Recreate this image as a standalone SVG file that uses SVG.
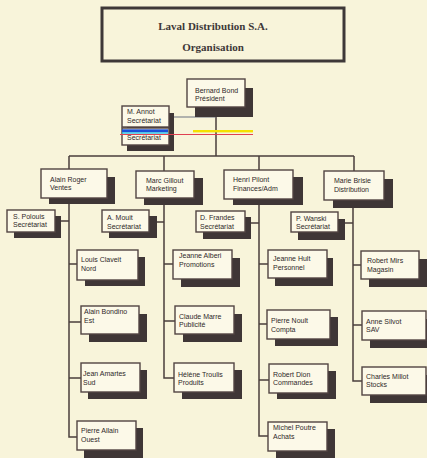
<svg xmlns="http://www.w3.org/2000/svg" width="427" height="458" viewBox="0 0 427 458">
<style>
.bg{fill:#f8f4da}
.bx{fill:#fcf9e8;stroke:#524442;stroke-width:1.4}
.sh{fill:#3f3636}
.ln{fill:none;stroke:#4a3e3c;stroke-width:1.5}
.t{font-family:"Liberation Sans",Arial,sans-serif;font-size:7px;fill:#2f2828}
.tt{font-family:"Liberation Serif","Times New Roman",serif;font-size:11px;font-weight:bold;fill:#3e3838;text-anchor:middle}
</style>
<rect class="bg" x="0" y="0" width="427" height="458"/>
<g id="title">
<rect x="102" y="8" width="242" height="53" fill="#f8f4da" stroke="#3e3838" stroke-width="3"/>
<text class="tt" x="213" y="30">Laval Distribution S.A.</text>
<text class="tt" x="213" y="51">Organisation</text>
</g>
<g id="connectors">
<path class="ln" d="M216 107V156M69 156H354M69 156V169M164 156V171M259 156V170M354 156V171"/>
<path class="ln" d="M69 198V437H77M69 264H77M69 322H81M69 378H81M61 221H69"/>
<path class="ln" d="M164 198V378H174M164 264H173M164 321H175M157 222H164"/>
<path class="ln" d="M259 199V436H268M259 264H268M259 324H267M259 380H269M251 223H259"/>
<path class="ln" d="M353 200V381H362M353 265H361M353 325H362M345 223H353"/>
<path fill="none" stroke="#6a7080" stroke-width="1.2" d="M169 117H216"/>
</g>
<g id="president"><rect class="sh" x="195" y="88" width="58" height="29"/><rect class="bx" x="187" y="79" width="58" height="28"/><text class="t" x="195" y="92.5">Bernard Bond</text><text class="t" x="195" y="101">Président</text></g>
<g id="annot"><rect class="sh" x="127" y="113" width="47" height="38"/><rect class="bx" x="122" y="106" width="47" height="21"/><rect class="bx" x="122" y="128" width="47" height="17"/><text class="t" x="127" y="113.5">M. Annot</text><text class="t" x="127" y="122.5">Secrétariat</text><text class="t" x="127" y="139.5">Secrétariat</text></g>
<g id="overlay">
<rect x="122" y="129.3" width="46" height="3" fill="#1a4fd8"/>
<rect x="122" y="132.3" width="46" height="1.4" fill="#28c0e8"/>
<rect x="193" y="130" width="60" height="2.4" fill="#f5e000"/>
<path d="M120 134.5H253" stroke="#e04050" stroke-width="1"/>
</g>
<g id="alain"><rect class="sh" x="49" y="177" width="66" height="27"/><rect class="bx" x="41" y="169" width="66" height="29"/><text class="t" x="50" y="181.5">Alain Roger</text><text class="t" x="50" y="190">Ventes</text></g>
<g id="marc"><rect class="sh" x="144" y="178" width="59" height="27"/><rect class="bx" x="136" y="171" width="58" height="27"/><text class="t" x="146" y="182.5">Marc Gillout</text><text class="t" x="146" y="191">Marketing</text></g>
<g id="henri"><rect class="sh" x="233" y="177" width="70" height="28"/><rect class="bx" x="224" y="170" width="69" height="29"/><text class="t" x="233" y="181.5">Henri Pilont</text><text class="t" x="233" y="190.5">Finances/Adm</text></g>
<g id="marie"><rect class="sh" x="333" y="179" width="60" height="29"/><rect class="bx" x="324" y="171" width="60" height="29"/><text class="t" x="334" y="182.5">Marie Brisie</text><text class="t" x="334" y="191.5">Distribution</text></g>
<g id="polouis"><rect class="sh" x="14" y="216" width="47" height="22"/><rect class="bx" x="7" y="210" width="48" height="22"/><text class="t" x="13" y="218.5">S. Polouis</text><text class="t" x="13" y="227">Secrétariat</text></g>
<g id="mouit"><rect class="sh" x="109" y="216" width="48" height="22"/><rect class="bx" x="102" y="210" width="47" height="22"/><text class="t" x="107" y="219.5">A. Mouit</text><text class="t" x="107" y="228.5">Secrétariat</text></g>
<g id="frandes"><rect class="sh" x="203" y="217" width="48" height="22"/><rect class="bx" x="196" y="211" width="49" height="21"/><text class="t" x="200" y="219.5">D. Frandes</text><text class="t" x="200" y="228.5">Secrétariat</text></g>
<g id="wanski"><rect class="sh" x="298" y="219" width="47" height="21"/><rect class="bx" x="291" y="212" width="47" height="20"/><text class="t" x="296" y="220.5">P. Wanski</text><text class="t" x="296" y="228.5">Secrétariat</text></g>
<g id="claveit"><rect class="sh" x="85" y="257" width="60" height="29"/><rect class="bx" x="77" y="250" width="61" height="30"/><text class="t" x="81" y="261.5">Louis Claveit</text><text class="t" x="81" y="270.5">Nord</text></g>
<g id="bondino"><rect class="sh" x="89" y="314" width="58" height="28"/><rect class="bx" x="81" y="306" width="58" height="28"/><text class="t" x="84" y="313.5">Alain Bondino</text><text class="t" x="84" y="322.5">Est</text></g>
<g id="amartes"><rect class="sh" x="88" y="370" width="59" height="29"/><rect class="bx" x="81" y="363" width="59" height="29"/><text class="t" x="83" y="375.5">Jean Amartes</text><text class="t" x="83" y="384.5">Sud</text></g>
<g id="allain"><rect class="sh" x="84" y="428" width="59" height="30"/><rect class="bx" x="77" y="421" width="59" height="29"/><text class="t" x="81" y="432.5">Pierre Allain</text><text class="t" x="81" y="441.5">Ouest</text></g>
<g id="alberi"><rect class="sh" x="181" y="258" width="59" height="29"/><rect class="bx" x="173" y="250" width="59" height="29"/><text class="t" x="179" y="257.5">Jeanne Alberi</text><text class="t" x="179" y="266.5">Promotions</text></g>
<g id="marre"><rect class="sh" x="183" y="314" width="59" height="28"/><rect class="bx" x="175" y="306" width="59" height="28"/><text class="t" x="179" y="318.5">Claude Marre</text><text class="t" x="179" y="326.5">Publicité</text></g>
<g id="troulis"><rect class="sh" x="182" y="370" width="60" height="29"/><rect class="bx" x="174" y="363" width="60" height="29"/><text class="t" x="178" y="376.5">Hélène Troulis</text><text class="t" x="178" y="384.5">Produits</text></g>
<g id="hult"><rect class="sh" x="275" y="258" width="58" height="28"/><rect class="bx" x="268" y="250" width="59" height="28"/><text class="t" x="273" y="260.5">Jeanne Hult</text><text class="t" x="273" y="269.5">Personnel</text></g>
<g id="noult"><rect class="sh" x="275" y="317" width="63" height="29"/><rect class="bx" x="267" y="310" width="63" height="29"/><text class="t" x="271" y="322.5">Pierre Noult</text><text class="t" x="271" y="331.5">Compta</text></g>
<g id="dion"><rect class="sh" x="277" y="371" width="59" height="28"/><rect class="bx" x="269" y="364" width="59" height="29"/><text class="t" x="273" y="376.5">Robert Dion</text><text class="t" x="273" y="384.5">Commandes</text></g>
<g id="poutre"><rect class="sh" x="276" y="429" width="59" height="29"/><rect class="bx" x="268" y="422" width="59" height="29"/><text class="t" x="273" y="429.5">Michel Poutre</text><text class="t" x="273" y="438.5">Achats</text></g>
<g id="mirs"><rect class="sh" x="369" y="259" width="58" height="28"/><rect class="bx" x="361" y="251" width="58" height="28"/><text class="t" x="367" y="262.5">Robert Mirs</text><text class="t" x="367" y="271.5">Magasin</text></g>
<g id="silvot"><rect class="sh" x="370" y="319" width="64" height="29"/><rect class="bx" x="362" y="311" width="64" height="29"/><text class="t" x="366" y="323.5">Anne Silvot</text><text class="t" x="366" y="331.5">SAV</text></g>
<g id="millot"><rect class="sh" x="370" y="375" width="64" height="28"/><rect class="bx" x="362" y="367" width="64" height="28"/><text class="t" x="366" y="378.5">Charles Millot</text><text class="t" x="366" y="386.5">Stocks</text></g>
</svg>
